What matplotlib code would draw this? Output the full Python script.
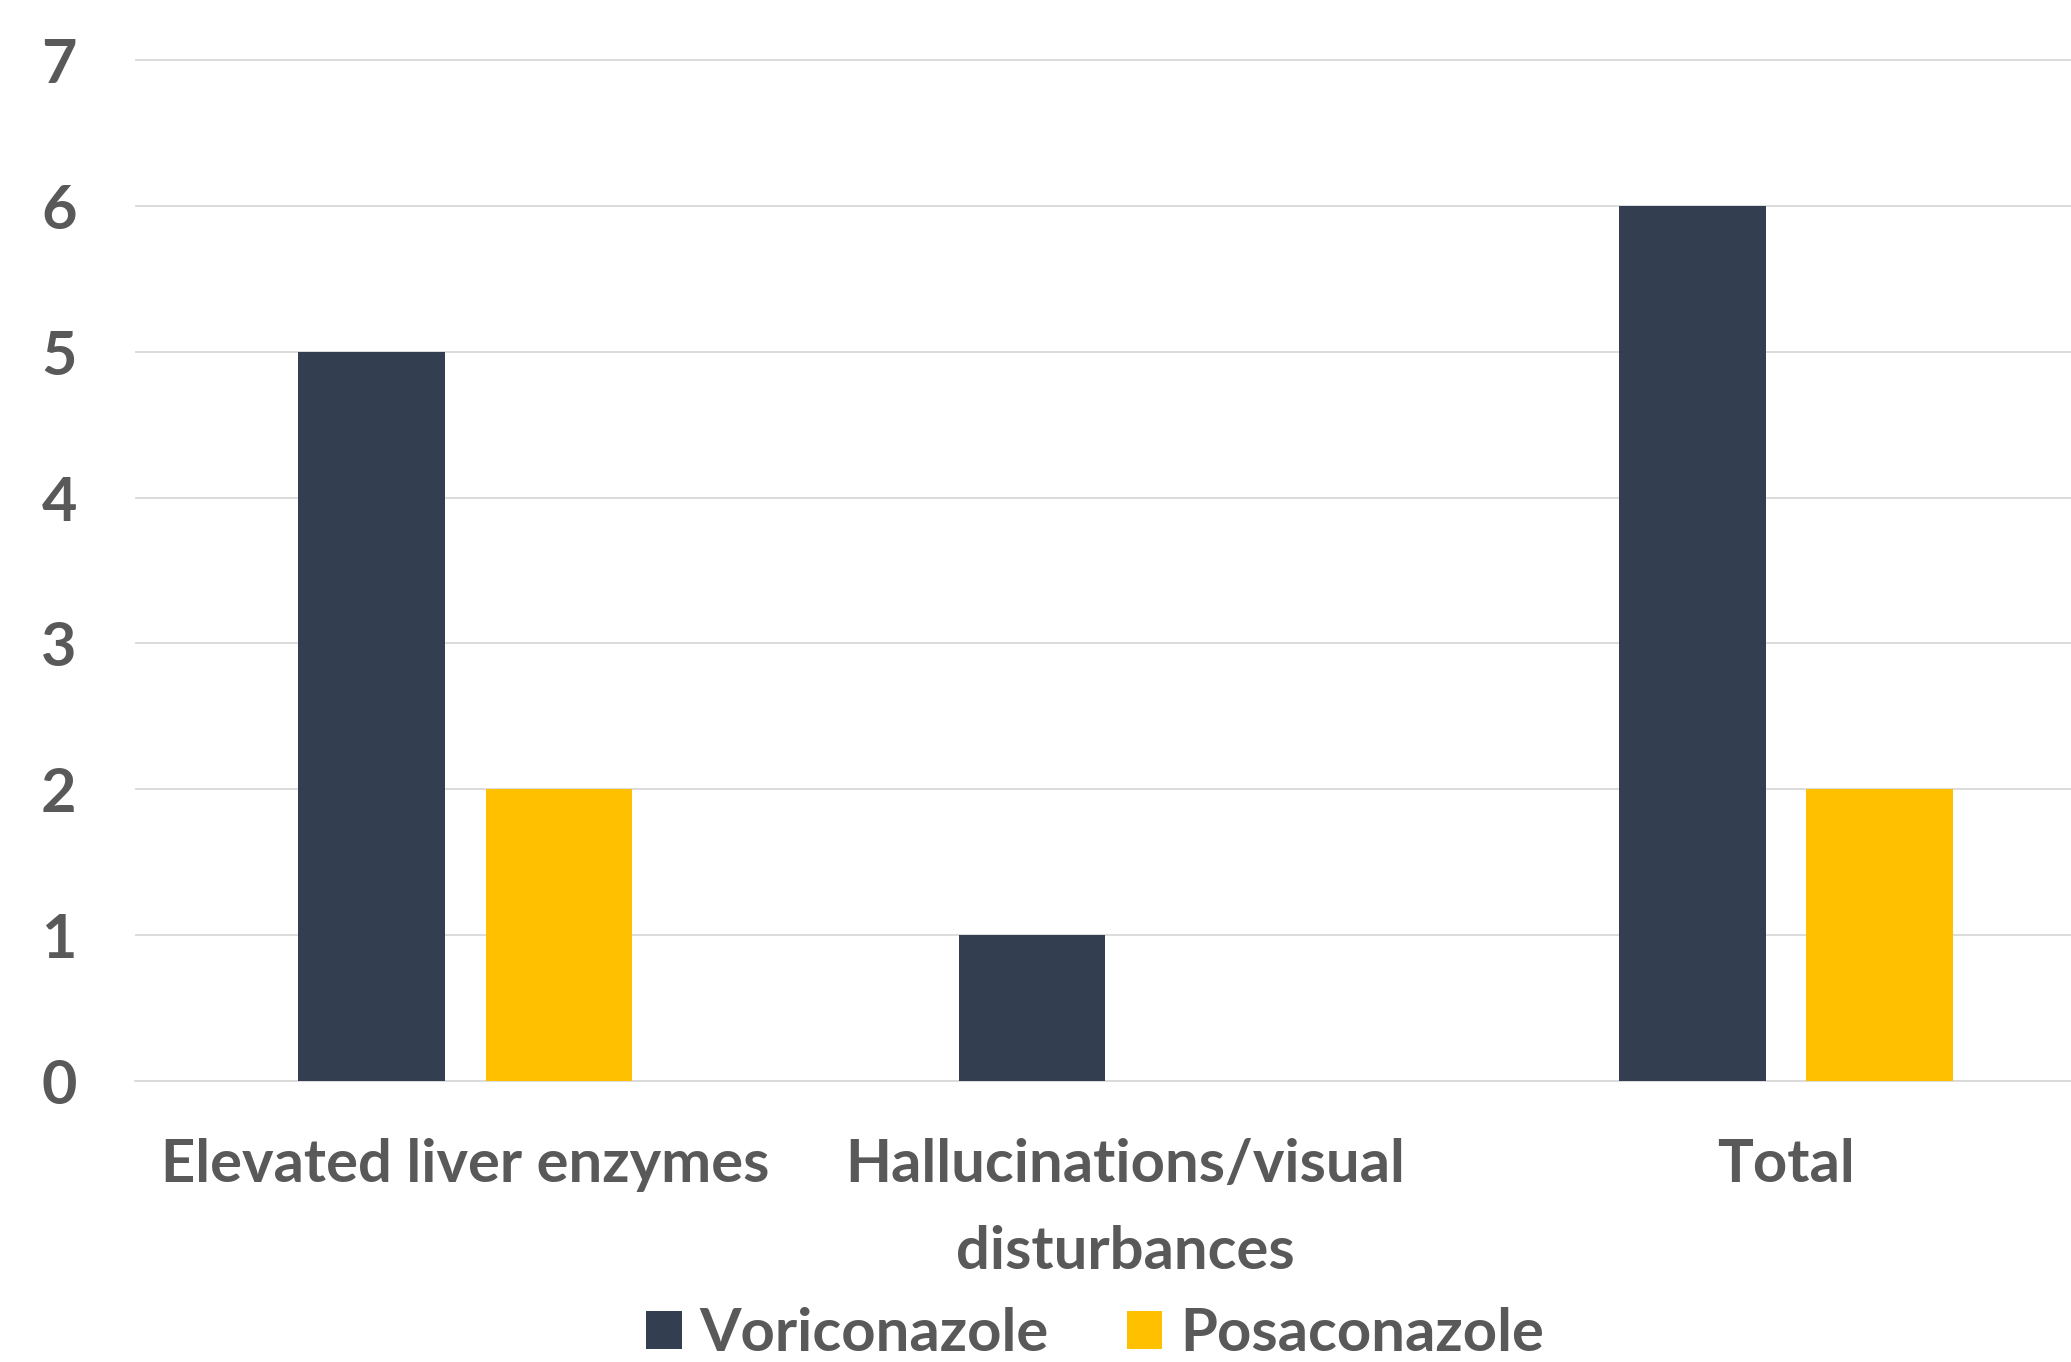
import matplotlib
matplotlib.use("Agg")
import matplotlib.pyplot as plt
import numpy as np

categories = ["Elevated liver enzymes", "Hallucinations/visual\ndisturbances", "Total"]
voriconazole = [5, 1, 6]
posaconazole = [2, 0, 2]
series_names = ["Voriconazole", "Posaconazole"]
colors = ["#333F50", "#FFC000"]
yticks = [0, 1, 2, 3, 4, 5, 6, 7]

plt.rcParams['font.family'] = ['Lato', 'DejaVu Sans']
plt.rcParams['font.weight'] = 'bold'
text_color = "#595959"

W, H = 2071, 1362
fig = plt.figure(figsize=(W / 100, H / 100), dpi=100)
left_px, bottom_px, top_px = 135, 1081, 57
ax = fig.add_axes([left_px / W, (H - bottom_px) / H, (W - left_px) / W, (bottom_px - top_px) / H])

x = np.arange(len(categories))
bw = 0.222
off = 0.142
b1 = ax.bar(x - off, voriconazole, bw, color=colors[0], label=series_names[0], zorder=3)
b2 = ax.bar(x + off, posaconazole, bw, color=colors[1], label=series_names[1], zorder=3)

ax.set_xlim(-0.5, -0.5 + (W - left_px) / 660.4)
ax.set_ylim(0, 7.02)
ax.set_yticks(yticks)
ax.set_xticks(x)
ax.set_xticklabels(categories, fontsize=43, fontweight='bold', color=text_color, linespacing=1.75)
ax.set_yticklabels([str(v) for v in yticks], fontsize=44, fontweight='bold', color=text_color)
ax.tick_params(axis='both', length=0)
ax.tick_params(axis='y', pad=42)
ax.tick_params(axis='x', pad=41)

for s in ['top', 'right', 'left']:
    ax.spines[s].set_visible(False)
ax.spines['bottom'].set_color('#D9D9D9')
ax.spines['bottom'].set_linewidth(1.3)
ax.yaxis.grid(True, color='#D9D9D9', linewidth=1.3, zorder=0)
ax.set_axisbelow(True)

leg = fig.legend(handles=[b1, b2], labels=series_names, loc='center',
                 bbox_to_anchor=(1095 / W, 28 / H), ncol=2, frameon=False,
                 fontsize=43, handlelength=0.6, handleheight=0.6,
                 handletextpad=0.3, columnspacing=1.3, borderpad=0, borderaxespad=0)
for t in leg.get_texts():
    t.set_color(text_color)
    t.set_fontweight('bold')

fig.savefig("out.png", dpi=100)
